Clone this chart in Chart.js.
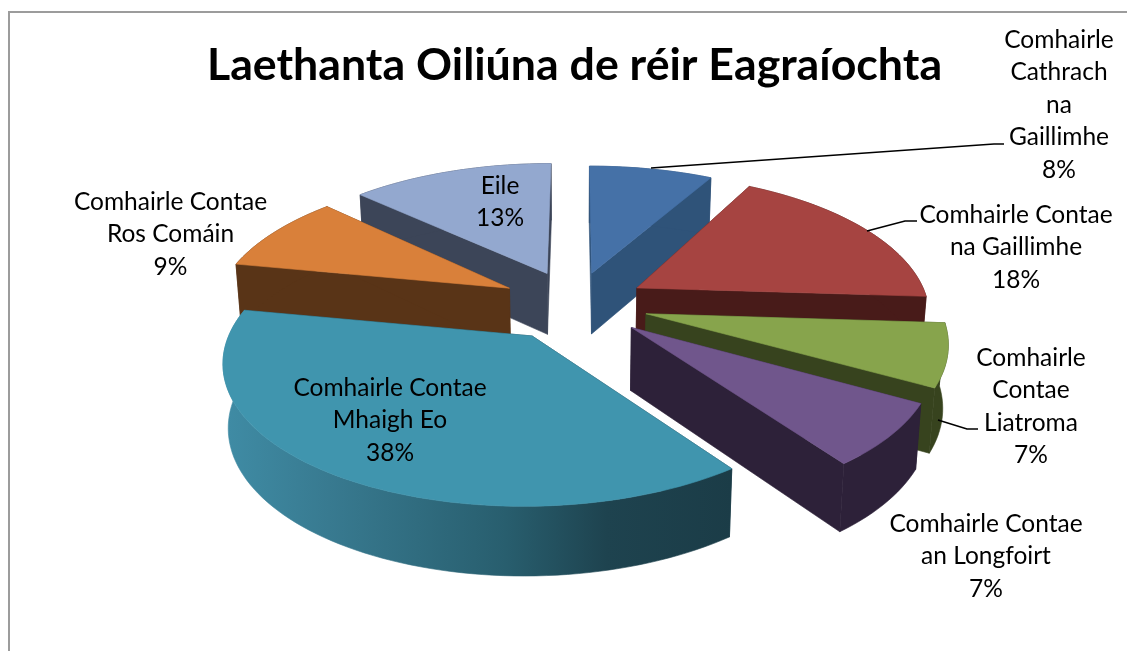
<!DOCTYPE html>
<html><head><meta charset="utf-8">
<style>html,body{margin:0;padding:0;background:#fff;overflow:hidden}canvas{display:block}</style>
<script src="https://cdn.jsdelivr.net/npm/chart.js@4"></script>
</head><body><canvas id="c" width="1127" height="651"></canvas>
<script>
const chartTitle = "Laethanta Oiliúna de réir Eagraíochta";
const categories = ["Comhairle Cathrach na Gaillimhe","Comhairle Contae na Gaillimhe","Comhairle Contae Liatroma","Comhairle Contae an Longfoirt","Comhairle Contae Mhaigh Eo","Comhairle Contae Ros Comáin","Eile"];
const values = [8,18,7,7,38,9,13];
const topColours = ["#4571a7","#a64441","#87a44c","#70568c","#4095ae","#d9803a","#93a8cf"];
const sideColours = ["#2f5379","#481b19","#37431e","#2d2139","#1c3d48","#593417","#3c4558"];
const explode = [70,72,73,73,77,75,73];
const rimScaleX = [1.02,1,1,.99,1,1.01,1.03];
const rimScaleY = [.97,1,1,.99,.95,1,1];
const labelLines = [["Comhairle","Cathrach","na","Gaillimhe"],["Comhairle Contae","na Gaillimhe"],["Comhairle","Contae","Liatroma"],["Comhairle Contae","an Longfoirt"],["Comhairle Contae","Mhaigh Eo"],["Comhairle Contae","Ros Comáin"],["Eile"]];
const labelAnchors = [[1059,40],[1016,215],[1031,358],[986,524],[390,388],[170.5,202],[500,186]];
const lineStep = 32.4;
const leaders = [[[651,168],[994,144],[1004,144]],[[867,231],[905,221],[917,221]],[[938,420],[967,429],[978,429]]];
const view = {cx:575,cy:304,R:292,k:.473,p:.17,D:62,shrink:.985};

function project(X,Y,z){
  const w=1/(1-view.p*Y), s=z?view.shrink:1;
  return [view.cx+view.R*X*w*s, view.cy+view.R*view.k*Y*w+z*view.D*(1+.5*(w-1))];
}
function poly(ctx,pts,fill){
  ctx.beginPath();pts.forEach((p,i)=>i?ctx.lineTo(p[0],p[1]):ctx.moveTo(p[0],p[1]));ctx.closePath();
  ctx.fillStyle=fill;ctx.fill();ctx.strokeStyle=fill;ctx.lineWidth=.6;ctx.stroke();
}
const pie3d={id:'pie3d',
  beforeDatasetsDraw(chart){
    const ctx=chart.ctx, arcs=chart.getDatasetMeta(0).data;
    const slices=arcs.map((a,i)=>{
      const t0=a.startAngle+Math.PI/2,t1=a.endAngle+Math.PI/2,m=(t0+t1)/2,e=(a.options.offset||0)/view.R;
      return {i,t0,t1,ox:e*Math.sin(m),oy:-e*Math.cos(m)};
    }).sort((a,b)=>a.oy-b.oy);
    slices.forEach(s=>{
      const n=Math.max(4,Math.ceil((s.t1-s.t0)/0.03)),rim=[];
      for(let j=0;j<=n;j++){const t=s.t0+(s.t1-s.t0)*j/n;rim.push([s.ox+rimScaleX[s.i]*Math.sin(t),s.oy-rimScaleY[s.i]*Math.cos(t)]);}
      const side=sideColours[s.i];
      const A0=project(s.ox,s.oy,0),A1=project(s.ox,s.oy,1);
      const a=rim[0],b=rim[n];
      poly(ctx,[A0,project(a[0],a[1],0),project(a[0],a[1],1),A1],side);
      poly(ctx,[A0,project(b[0],b[1],0),project(b[0],b[1],1),A1],side);
      let wallFill=side;
      if(values[s.i]===38){
        const g=ctx.createLinearGradient(228,0,733,0);
        g.addColorStop(0,"#3f8ba4");g.addColorStop(.2,"#387a90");g.addColorStop(.55,"#285e6e");g.addColorStop(.75,"#1e434f");g.addColorStop(1,"#1b3c47");
        wallFill=g;
      }
      const wall=rim.map(p=>project(p[0],p[1],0)).concat(rim.slice().reverse().map(p=>project(p[0],p[1],1)));
      poly(ctx,wall,wallFill);
      poly(ctx,[A0].concat(rim.map(p=>project(p[0],p[1],0))),topColours[s.i]);
    });
    return false;
  },
  afterDraw(chart){
    const ctx=chart.ctx,total=values.reduce((a,b)=>a+b,0);
    ctx.save();
    ctx.strokeStyle="#9c9c9c";ctx.lineWidth=2;
    ctx.beginPath();ctx.moveTo(9,651);ctx.lineTo(9,12);ctx.lineTo(1127,12);ctx.stroke();
    ctx.strokeStyle="#000";ctx.lineWidth=1.6;
    leaders.forEach(l=>{ctx.beginPath();l.forEach((p,i)=>i?ctx.lineTo(p[0],p[1]):ctx.moveTo(p[0],p[1]));ctx.stroke();});
    ctx.fillStyle="#000";ctx.font='24.5px Lato';ctx.textAlign="center";ctx.textBaseline="middle";
    labelLines.forEach((lines,i)=>{
      const all=lines.concat([Math.round(values[i]/total*100)+"%"]);
      all.forEach((t,j)=>ctx.fillText(t,labelAnchors[i][0],labelAnchors[i][1]+j*lineStep));
    });
    ctx.restore();
  }
};
new Chart(document.getElementById('c'),{
  type:'pie',
  data:{labels:categories,datasets:[{data:values,backgroundColor:topColours,offset:explode,borderWidth:0}]},
  options:{responsive:false,animation:false,events:[],rotation:0,
    layout:{padding:{left:22}},
    plugins:{legend:{display:false},tooltip:{enabled:false},
      title:{display:true,text:chartTitle,color:"#000",font:{family:'Lato',size:44.7,weight:'bold'},padding:{top:39,bottom:0}}}},
  plugins:[pie3d]
});
</script></body></html>
